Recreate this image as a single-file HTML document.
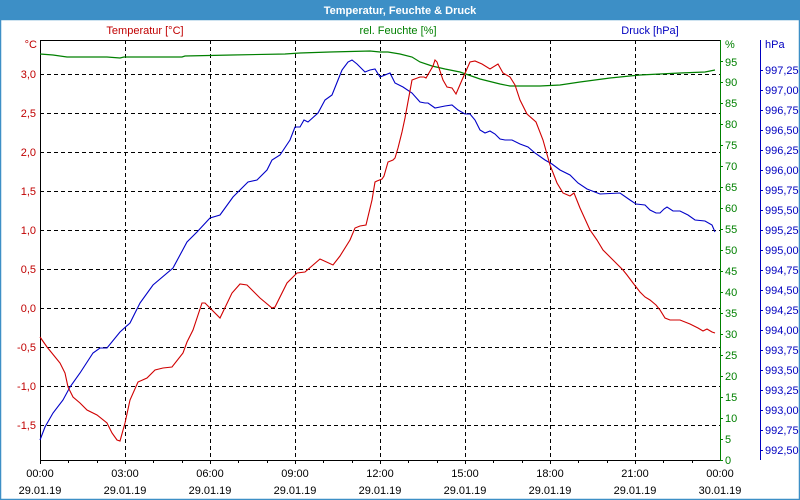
<!DOCTYPE html>
<html><head><meta charset="utf-8"><style>
body{margin:0;width:800px;height:500px;overflow:hidden;background:#fff}
svg{display:block}
text{font-family:"Liberation Sans",sans-serif;font-size:11px}
</style></head><body>
<svg width="800" height="500" xmlns="http://www.w3.org/2000/svg">
<rect x="0" y="0" width="800" height="500" fill="#fff"/>
<rect x="0" y="0" width="800" height="20" fill="#3d8fc6"/>
<rect x="0.5" y="19.5" width="799" height="480" fill="none" stroke="#3d8fc6" stroke-width="1.5"/>
<text x="400" y="14" text-anchor="middle" fill="#fff" font-weight="bold">Temperatur, Feuchte &amp; Druck</text>
<text x="145" y="34" text-anchor="middle" fill="#c00000">Temperatur [°C]</text>
<text x="398" y="34" text-anchor="middle" fill="#008000">rel. Feuchte [%]</text>
<text x="650" y="34" text-anchor="middle" fill="#0000c0">Druck [hPa]</text>
<g stroke="#000" stroke-dasharray="4,3" stroke-width="1">
<line x1="40" y1="74.5" x2="720" y2="74.5"/><line x1="40" y1="113.5" x2="720" y2="113.5"/><line x1="40" y1="152.5" x2="720" y2="152.5"/><line x1="40" y1="191.5" x2="720" y2="191.5"/><line x1="40" y1="230.5" x2="720" y2="230.5"/><line x1="40" y1="269.5" x2="720" y2="269.5"/><line x1="40" y1="308.5" x2="720" y2="308.5"/><line x1="40" y1="347.5" x2="720" y2="347.5"/><line x1="40" y1="386.5" x2="720" y2="386.5"/><line x1="40" y1="425.5" x2="720" y2="425.5"/>
<line x1="125.5" y1="40" x2="125.5" y2="460"/><line x1="210.5" y1="40" x2="210.5" y2="460"/><line x1="295.5" y1="40" x2="295.5" y2="460"/><line x1="380.5" y1="40" x2="380.5" y2="460"/><line x1="465.5" y1="40" x2="465.5" y2="460"/><line x1="550.5" y1="40" x2="550.5" y2="460"/><line x1="635.5" y1="40" x2="635.5" y2="460"/>
</g>
<line x1="40" y1="40.5" x2="720" y2="40.5" stroke="#000"/>
<line x1="40.5" y1="40" x2="40.5" y2="461" stroke="#000"/>
<line x1="40" y1="460.5" x2="720" y2="460.5" stroke="#000"/>
<line x1="720.5" y1="40" x2="720.5" y2="461" stroke="#008000"/>
<line x1="760.5" y1="40" x2="760.5" y2="460" stroke="#0000c0"/>
<g stroke="#000">
<line x1="68.5" y1="460" x2="68.5" y2="463"/><line x1="97.5" y1="460" x2="97.5" y2="463"/><line x1="125.5" y1="460" x2="125.5" y2="464"/><line x1="153.5" y1="460" x2="153.5" y2="463"/><line x1="182.5" y1="460" x2="182.5" y2="463"/><line x1="210.5" y1="460" x2="210.5" y2="464"/><line x1="238.5" y1="460" x2="238.5" y2="463"/><line x1="267.5" y1="460" x2="267.5" y2="463"/><line x1="295.5" y1="460" x2="295.5" y2="464"/><line x1="323.5" y1="460" x2="323.5" y2="463"/><line x1="352.5" y1="460" x2="352.5" y2="463"/><line x1="380.5" y1="460" x2="380.5" y2="464"/><line x1="408.5" y1="460" x2="408.5" y2="463"/><line x1="437.5" y1="460" x2="437.5" y2="463"/><line x1="465.5" y1="460" x2="465.5" y2="464"/><line x1="493.5" y1="460" x2="493.5" y2="463"/><line x1="522.5" y1="460" x2="522.5" y2="463"/><line x1="550.5" y1="460" x2="550.5" y2="464"/><line x1="578.5" y1="460" x2="578.5" y2="463"/><line x1="607.5" y1="460" x2="607.5" y2="463"/><line x1="635.5" y1="460" x2="635.5" y2="464"/><line x1="663.5" y1="460" x2="663.5" y2="463"/><line x1="692.5" y1="460" x2="692.5" y2="463"/><line x1="40.5" y1="460" x2="40.5" y2="464"/>
</g>
<g fill="#c00000" text-anchor="end">
<text x="37" y="48">°C</text>
<text x="36" y="78">3,0</text><text x="36" y="117">2,5</text><text x="36" y="156">2,0</text><text x="36" y="195">1,5</text><text x="36" y="234">1,0</text><text x="36" y="273">0,5</text><text x="36" y="312">0,0</text><text x="36" y="351">-0,5</text><text x="36" y="390">-1,0</text><text x="36" y="429">-1,5</text>
</g>
<g fill="#008000">
<text x="725" y="48">%</text>
<text x="725" y="66">95</text><text x="725" y="86">90</text><text x="725" y="107">85</text><text x="725" y="128">80</text><text x="725" y="149">75</text><text x="725" y="170">70</text><text x="725" y="191">65</text><text x="725" y="212">60</text><text x="725" y="233">55</text><text x="725" y="254">50</text><text x="725" y="275">45</text><text x="725" y="296">40</text><text x="725" y="317">35</text><text x="725" y="338">30</text><text x="725" y="359">25</text><text x="725" y="380">20</text><text x="725" y="401">15</text><text x="725" y="422">10</text><text x="725" y="443">5</text><text x="725" y="464">0</text>
</g>
<g stroke="#008000"><line x1="720" y1="61.5" x2="723" y2="61.5"/><line x1="720" y1="82.5" x2="723" y2="82.5"/><line x1="720" y1="103.5" x2="723" y2="103.5"/><line x1="720" y1="124.5" x2="723" y2="124.5"/><line x1="720" y1="145.5" x2="723" y2="145.5"/><line x1="720" y1="166.5" x2="723" y2="166.5"/><line x1="720" y1="187.5" x2="723" y2="187.5"/><line x1="720" y1="208.5" x2="723" y2="208.5"/><line x1="720" y1="229.5" x2="723" y2="229.5"/><line x1="720" y1="250.5" x2="723" y2="250.5"/><line x1="720" y1="271.5" x2="723" y2="271.5"/><line x1="720" y1="292.5" x2="723" y2="292.5"/><line x1="720" y1="313.5" x2="723" y2="313.5"/><line x1="720" y1="334.5" x2="723" y2="334.5"/><line x1="720" y1="355.5" x2="723" y2="355.5"/><line x1="720" y1="376.5" x2="723" y2="376.5"/><line x1="720" y1="397.5" x2="723" y2="397.5"/><line x1="720" y1="418.5" x2="723" y2="418.5"/><line x1="720" y1="439.5" x2="723" y2="439.5"/><line x1="720" y1="460.5" x2="723" y2="460.5"/></g>
<g fill="#0000c0">
<text x="765" y="48">hPa</text>
<text x="765" y="74">997,25</text><text x="765" y="94">997,00</text><text x="765" y="114">996,75</text><text x="765" y="134">996,50</text><text x="765" y="154">996,25</text><text x="765" y="174">996,00</text><text x="765" y="194">995,75</text><text x="765" y="214">995,50</text><text x="765" y="234">995,25</text><text x="765" y="254">995,00</text><text x="765" y="274">994,75</text><text x="765" y="294">994,50</text><text x="765" y="314">994,25</text><text x="765" y="334">994,00</text><text x="765" y="354">993,75</text><text x="765" y="374">993,50</text><text x="765" y="394">993,25</text><text x="765" y="414">993,00</text><text x="765" y="434">992,75</text><text x="765" y="454">992,50</text>
</g>
<g stroke="#0000c0"><line x1="760" y1="70.5" x2="763" y2="70.5"/><line x1="760" y1="90.5" x2="763" y2="90.5"/><line x1="760" y1="110.5" x2="763" y2="110.5"/><line x1="760" y1="130.5" x2="763" y2="130.5"/><line x1="760" y1="150.5" x2="763" y2="150.5"/><line x1="760" y1="170.5" x2="763" y2="170.5"/><line x1="760" y1="190.5" x2="763" y2="190.5"/><line x1="760" y1="210.5" x2="763" y2="210.5"/><line x1="760" y1="230.5" x2="763" y2="230.5"/><line x1="760" y1="250.5" x2="763" y2="250.5"/><line x1="760" y1="270.5" x2="763" y2="270.5"/><line x1="760" y1="290.5" x2="763" y2="290.5"/><line x1="760" y1="310.5" x2="763" y2="310.5"/><line x1="760" y1="330.5" x2="763" y2="330.5"/><line x1="760" y1="350.5" x2="763" y2="350.5"/><line x1="760" y1="370.5" x2="763" y2="370.5"/><line x1="760" y1="390.5" x2="763" y2="390.5"/><line x1="760" y1="410.5" x2="763" y2="410.5"/><line x1="760" y1="430.5" x2="763" y2="430.5"/><line x1="760" y1="450.5" x2="763" y2="450.5"/></g>
<g fill="#000" text-anchor="middle">
<text x="40" y="477">00:00</text><text x="40" y="494">29.01.19</text>
<text x="125" y="477">03:00</text><text x="125" y="494">29.01.19</text>
<text x="210" y="477">06:00</text><text x="210" y="494">29.01.19</text>
<text x="295" y="477">09:00</text><text x="295" y="494">29.01.19</text>
<text x="380" y="477">12:00</text><text x="380" y="494">29.01.19</text>
<text x="465" y="477">15:00</text><text x="465" y="494">29.01.19</text>
<text x="550" y="477">18:00</text><text x="550" y="494">29.01.19</text>
<text x="635" y="477">21:00</text><text x="635" y="494">29.01.19</text>
<text x="720" y="477">00:00</text><text x="720" y="494">30.01.19</text>
</g>
<polyline fill="none" stroke="#008000" stroke-width="1.2" points="40,54 53,55 67,57 107,57 120,58 124,57 182,57 185,56 232,55 285,54 300,53 330,52 370,51 380,52 388,52 400,54 412,57 420,62 432,66 445,69 460,72 480,79 500,84 510,86 525,86 540,86 560,85 580,82 610,78 640,75 680,73 705,72 715,70"/>
<polyline fill="none" stroke="#0000c8" stroke-width="1.1" points="40,440 45,427 53,413 63,400 70,387 80,373 93,353 100,348 107,348 120,332 130,323 140,303 153,285 173,268 187,242 197,232 210,218 220,215 233,197 248,182 257,180 267,170 272,160 280,155 290,140 295,127 300,127 304,120 308,122 318,113 325,100 332,95 338,80 342,70 348,62 352,60 357,64 365,72 370,70 375,69 380,77 385,75 390,73 395,83 403,87 412,93 420,102 425,103 428,103 435,108 445,106 452,105 458,110 465,114 470,114 475,120 480,130 485,133 490,131 495,134 500,139 505,140 512,140 520,144 528,147 535,153 545,160 552,164 560,170 570,175 578,183 587,189 600,194 620,193 630,200 636,204 645,205 650,210 656,213 660,213 664,209 667,207 673,211 680,211 688,215 695,220 705,221 712,225 715,232"/>
<polyline fill="none" stroke="#d00000" stroke-width="1.1" points="40,337 47,347 60,363 65,373 68,387 73,397 80,403 87,410 97,415 107,423 112,433 117,440 120,441 125,423 130,400 138,382 147,378 155,370 163,368 172,367 183,353 187,342 193,330 202,303 205,303 220,318 232,293 240,284 247,285 260,298 272,308 275,307 287,283 297,273 305,272 320,259 333,265 340,256 350,240 355,228 360,226 366,225 372,200 375,182 377,181 382,179 384,176 388,162 393,160 395,158 398,148 402,132 405,118 412,80 420,77 424,77 426,78 433,66 435,60 437,62 443,80 447,87 452,88 456,94 462,80 470,62 475,61 482,64 490,69 498,64 503,73 510,77 515,85 520,100 527,114 536,122 543,140 550,165 557,183 563,193 570,196 574,193 580,208 590,230 597,240 603,250 610,257 618,265 623,270 627,275 633,283 640,292 645,297 650,300 656,305 660,310 665,318 670,320 680,320 690,324 698,328 703,331 707,329 712,332 715,333"/>
</svg>
</body></html>
